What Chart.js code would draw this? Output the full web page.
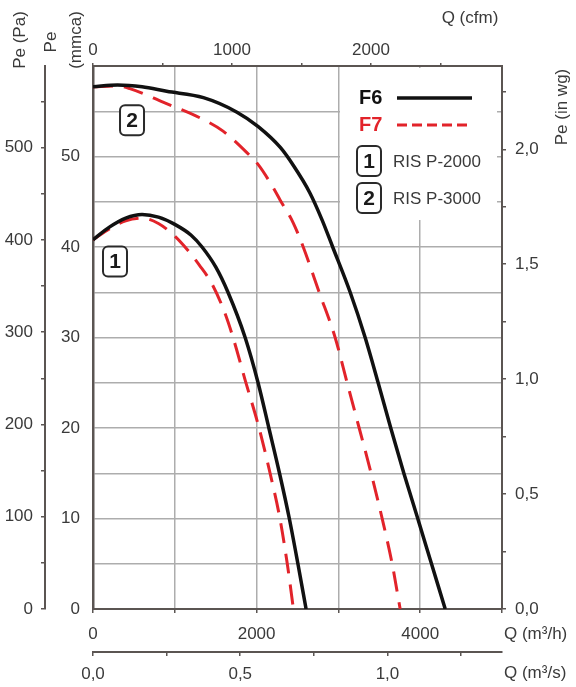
<!DOCTYPE html>
<html>
<head>
<meta charset="utf-8">
<script src="https://cdn.jsdelivr.net/npm/chart.js@4.4.0/dist/chart.umd.min.js"></script>
<style>
html, body { margin: 0; padding: 0; background: #fff; }
canvas { display: block; }
</style>
</head>
<body>
<canvas id="fanChart" width="576" height="687"></canvas>
<script>
// curves: Q in m3/h, Pe in mmca
const qF6_2000 = [0, 200, 400, 600, 800, 1000, 1200, 1333, 1500, 1650, 1860, 2018, 2150, 2280, 2400, 2505, 2605];
const peF6_2000 = [40.8, 42.2, 43.2, 43.6, 43.3, 42.5, 41.3, 40.0, 37.8, 35.0, 30.0, 25.0, 20.0, 15.0, 10.0, 5.0, 0];
const qF7_2000 = [0, 200, 400, 600, 800, 1000, 1125, 1300, 1450, 1600, 1712, 1860, 2030, 2165, 2285, 2375, 2450];
const peF7_2000 = [40.8, 42.0, 42.9, 43.2, 42.6, 41.2, 40.0, 38.0, 36.0, 33.0, 30.0, 25.3, 20.0, 15.0, 10.0, 5.0, 0];
const qF6_3000 = [0, 300, 600, 900, 1350, 1760, 2020, 2290, 2450, 2650, 2800, 2930, 3144, 3327, 3486, 3640, 3800, 3970, 4138, 4306];
const peF6_3000 = [57.7, 57.9, 57.7, 57.2, 56.5, 54.9, 53.3, 51.0, 49.0, 46.0, 43.0, 40.0, 35.0, 30.0, 25.0, 20.0, 15.0, 10.0, 5.0, 0];
const qF7_3000 = [0, 300, 450, 856, 1346, 1590, 1884, 2020, 2200, 2287, 2446, 2570, 2765, 2960, 3107, 3254, 3400, 3535, 3657, 3755];
const peF7_3000 = [57.7, 57.8, 57.5, 56.0, 54.1, 52.8, 50.4, 49.1, 46.6, 45.2, 42.7, 40.0, 35.0, 30.0, 25.0, 20.0, 15.0, 10.0, 5.0, 0];

// model tags placed on the curves (Q, Pe)
const tagText = ['1', '2'];
const tagQ = [269, 477];
const tagPe = [38.4, 54.0];

// axes
const flowTicks = [0, 1000, 2000, 3000, 4000, 5000];
const flowLabels = [0, 2000, 4000];
const m3sTicks = [0, 0.25, 0.5, 0.75, 1.0, 1.25];
const m3sLabels = [0, 0.5, 1.0];
const cfmTicks = [0, 500, 1000, 1500, 2000, 2500];
const cfmLabels = [0, 1000, 2000];
const mmcaTicks = [0, 5, 10, 15, 20, 25, 30, 35, 40, 45, 50, 55, 60];
const mmcaLabels = [0, 10, 20, 30, 40, 50];
const paTicks = [0, 50, 100, 150, 200, 250, 300, 350, 400, 450, 500, 550];
const paLabels = [0, 100, 200, 300, 400, 500];
const inwgTicks = [0, 0.25, 0.5, 0.75, 1.0, 1.25, 1.5, 1.75, 2.0, 2.25];
const inwgLabels = [0, 0.5, 1.0, 1.5, 2.0];

const legendText = ['RIS P-2000', 'RIS P-3000'];

const FONT = '"Liberation Sans", Arial, sans-serif';
const INK = '#3a3a3a';
const AXIS = '#5b5552';
const GRID = '#adadad';
const RED = '#e2232a';

const QMAX = 5000;           // m3/h
const PEMAX = 60;            // mmca
const toCfm = 1 / 1.69901;
const toM3s = 1 / 3600;
const toPa = 9.80665;
const toInwg = 9.80665 / 249.089;

const pts = (qs, ps) => qs.map((q, i) => ({ x: q, y: ps[i] }));
const setTicks = list => s => { s.ticks = list.map(v => ({ value: v })); };
const onlyAt = (list, fmt) => v => list.some(l => Math.abs(l - v) < 1e-6) ? fmt(v) : '';
const comma = v => v.toFixed(1).replace('.', ',');
const tickFont = { family: FONT, size: 17 };

function boxedDigit(ctx, cx, cy, txt) {
    ctx.save();
    ctx.fillStyle = '#fff';
    ctx.strokeStyle = '#2a2a2a';
    ctx.lineWidth = 2;
    ctx.beginPath();
    ctx.roundRect(cx - 12, cy - 15, 24, 30, 5);
    ctx.fill();
    ctx.stroke();
    ctx.fillStyle = '#1a1a1a';
    ctx.font = 'bold 21px ' + FONT;
    ctx.textAlign = 'center';
    ctx.textBaseline = 'middle';
    ctx.fillText(txt, cx, cy + 1);
    ctx.restore();
}

function rotText(ctx, txt, x, y) {
    ctx.save();
    ctx.translate(x, y);
    ctx.rotate(-Math.PI / 2);
    ctx.fillText(txt, 0, 0);
    ctx.restore();
}

const decorations = {
    id: 'decorations',
    beforeDatasetsDraw(chart) {
        // white panel behind the legend
        const ctx = chart.ctx;
        ctx.save();
        ctx.fillStyle = '#fff';
        ctx.fillRect(340, 68, 157, 152);
        ctx.restore();
    },
    afterDatasetsDraw(chart) {
        const ctx = chart.ctx;
        const sx = chart.scales.x, sy = chart.scales.y;

        // tags on the curves
        tagText.forEach((t, i) => {
            boxedDigit(ctx, sx.getPixelForValue(tagQ[i]), sy.getPixelForValue(tagPe[i]), t);
        });

        // legend
        ctx.save();
        ctx.textBaseline = 'middle';
        ctx.textAlign = 'left';
        ctx.font = 'bold 20px ' + FONT;
        ctx.fillStyle = '#111';
        ctx.fillText('F6', 359, 98);
        ctx.fillStyle = RED;
        ctx.fillText('F7', 359, 125);

        ctx.lineWidth = 3.5;
        ctx.strokeStyle = '#111';
        ctx.beginPath(); ctx.moveTo(397, 98); ctx.lineTo(472, 98); ctx.stroke();
        ctx.lineWidth = 3;
        ctx.strokeStyle = RED;
        ctx.setLineDash([10, 5]);
        ctx.beginPath(); ctx.moveTo(397, 125); ctx.lineTo(472, 125); ctx.stroke();
        ctx.setLineDash([]);
        ctx.restore();

        boxedDigit(ctx, 369, 161, '1');
        boxedDigit(ctx, 369, 198, '2');
        ctx.save();
        ctx.font = '17px ' + FONT;
        ctx.fillStyle = INK;
        ctx.textBaseline = 'middle';
        ctx.fillText(legendText[0], 393, 162);
        ctx.fillText(legendText[1], 393, 199);
        ctx.restore();
    },
    afterDraw(chart) {
        // axis titles
        const ctx = chart.ctx;
        ctx.save();
        ctx.font = '17px ' + FONT;
        ctx.fillStyle = INK;
        ctx.textAlign = 'center';
        ctx.textBaseline = 'middle';
        rotText(ctx, 'Pe (Pa)', 20, 40);
        rotText(ctx, 'Pe', 51, 42);
        rotText(ctx, '(mmca)', 76, 40);
        rotText(ctx, 'Pe (in wg)', 562, 107);
        ctx.fillText('Q (cfm)', 470, 18);
        ctx.textAlign = 'left';
        ctx.fillText('Q (m³/h)', 504, 634);
        ctx.fillText('Q (m³/s)', 504, 673);
        ctx.restore();
    }
};

const curve = (label, data, color, width, dash) => ({
    label, data,
    showLine: true,
    borderColor: color,
    borderWidth: width,
    borderDash: dash,
    pointRadius: 0,
    fill: false,
    cubicInterpolationMode: 'monotone'
});

const ctx = document.getElementById('fanChart').getContext('2d');
new Chart(ctx, {
    type: 'scatter',
    data: {
        datasets: [
            curve('F6 RIS P-3000', pts(qF6_3000, peF6_3000), '#111', 3.5, []),
            curve('F6 RIS P-2000', pts(qF6_2000, peF6_2000), '#111', 3.5, []),
            curve('F7 RIS P-3000', pts(qF7_3000, peF7_3000), RED, 3, [20, 11]),
            curve('F7 RIS P-2000', pts(qF7_2000, peF7_2000), RED, 3, [20, 11])
        ]
    },
    options: {
        responsive: false,
        animation: false,
        layout: { padding: 0 },
        plugins: { legend: { display: false }, tooltip: { enabled: false } },
        scales: {
            x: {
                type: 'linear', position: 'bottom', weight: 0, min: 0, max: QMAX,
                afterBuildTicks: setTicks(flowTicks),
                afterFit: s => { s.height = 43; },
                ticks: { autoSkip: false, maxRotation: 0, padding: 11, color: INK, font: tickFont,
                         callback: onlyAt(flowLabels, v => String(v)) },
                grid: { color: GRID, lineWidth: 1.5, tickLength: 4, tickColor: AXIS, tickWidth: 1.5 },
                border: { color: AXIS, width: 2 }
            },
            xs: {
                type: 'linear', position: 'bottom', weight: 1, min: 0, max: QMAX * toM3s,
                afterBuildTicks: setTicks(m3sTicks),
                afterFit: s => { s.height = 35; },
                ticks: { autoSkip: false, maxRotation: 0, padding: 8, color: INK, font: tickFont,
                         callback: onlyAt(m3sLabels, comma) },
                grid: { drawOnChartArea: false, tickLength: 4, color: AXIS, lineWidth: 1.5 },
                border: { color: AXIS, width: 2 }
            },
            xt: {
                type: 'linear', position: 'top', min: 0, max: QMAX * toCfm,
                afterBuildTicks: setTicks(cfmTicks),
                afterFit: s => { s.height = 66; },
                ticks: { autoSkip: false, maxRotation: 0, padding: 2, color: INK, font: tickFont,
                         callback: onlyAt(cfmLabels, v => String(v)) },
                grid: { drawOnChartArea: false, tickLength: 3, color: AXIS, lineWidth: 1.5 },
                border: { color: AXIS, width: 2 }
            },
            y: {
                type: 'linear', position: 'left', weight: 0, min: 0, max: PEMAX,
                afterBuildTicks: setTicks(mmcaTicks),
                afterFit: s => { s.width = 48; },
                ticks: { autoSkip: false, padding: 13, color: INK, font: tickFont,
                         callback: onlyAt(mmcaLabels, v => String(v)) },
                grid: { color: GRID, lineWidth: 1.5, drawTicks: false },
                border: { color: AXIS, width: 2.5 }
            },
            yp: {
                type: 'linear', position: 'left', weight: 1, min: 0, max: PEMAX * toPa,
                afterBuildTicks: setTicks(paTicks),
                afterFit: s => { s.width = 45; },
                ticks: { autoSkip: false, padding: 8, color: INK, font: tickFont,
                         callback: onlyAt(paLabels, v => String(v)) },
                grid: { drawOnChartArea: false, tickLength: 4, color: AXIS, lineWidth: 1.5 },
                border: { color: AXIS, width: 2 }
            },
            yr: {
                type: 'linear', position: 'right', min: 0, max: PEMAX * toInwg,
                afterBuildTicks: setTicks(inwgTicks),
                afterFit: s => { s.width = 74; },
                ticks: { autoSkip: false, padding: 9, color: INK, font: tickFont,
                         callback: onlyAt(inwgLabels, comma) },
                grid: { drawOnChartArea: false, tickLength: 4, color: AXIS, lineWidth: 1.5 },
                border: { color: AXIS, width: 2 }
            }
        }
    },
    plugins: [decorations]
});
</script>
</body>
</html>
